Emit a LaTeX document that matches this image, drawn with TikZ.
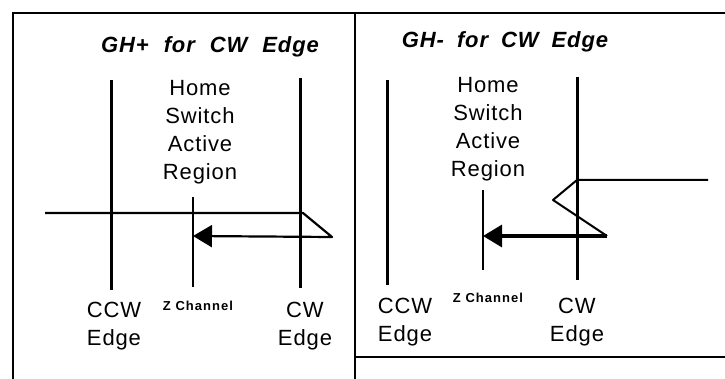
\documentclass[tikz,border=0pt]{standalone}
\usepackage{fontspec}
\setmainfont{Liberation Sans}
\newfontfamily\labelfont[LetterSpace=4]{Liberation Sans}
\newfontfamily\titlefont[LetterSpace=4]{Liberation Sans}
\newfontfamily\chanfont[LetterSpace=8]{Liberation Sans}
\usetikzlibrary{arrows.meta}

\begin{document}
\begin{tikzpicture}[
  x=1pt,y=-1pt,
  every node/.style={inner sep=0pt},
  ttl/.style={anchor=base,font=\fontsize{22}{26}\selectfont\titlefont\bfseries\itshape},
  lbl/.style={anchor=north,align=center,font=\fontsize{22}{28}\selectfont\labelfont},
  chan/.style={anchor=base,font=\fontsize{13}{15}\selectfont\chanfont\bfseries},
  edgeline/.style={line width=3pt},
  zline/.style={line width=1.4pt},
  trace/.style={line width=2.2pt,line join=round},
  homing/.style={line width=3.2pt,-{Triangle[length=19pt,width=22pt]}},
  frame/.style={line width=1.6pt}
]
  \useasboundingbox (0,0) rectangle (725,379);

  % frame
  \draw[frame] (13,379) -- (13,13) -- (725,13);
  \draw[line width=2.6pt] (355,13) -- (355,379);
  \draw[frame] (355,357) -- (725,357);

  % GH+ panel
  \node[ttl] (ttlp) at (210,53) {GH+\hspace{15pt}for\hspace{15pt}CW\hspace{15pt}Edge};
  \coordinate (ccwtopp) at (111,80);  \coordinate (ccwbotp) at (111,290);
  \coordinate (cwtopp) at (300,78);   \coordinate (cwbotp) at (300,288);
  \coordinate (ztopp) at (193,197);   \coordinate (zbotp) at (193,287);
  \draw[edgeline] (ccwtopp) -- (ccwbotp);
  \draw[edgeline] (cwtopp) -- (cwbotp);
  \draw[zline] (ztopp) -- (zbotp);
  \node[lbl] (homep) at (200,80) {Home\\Switch\\Active\\Region};
  \node[lbl] (ccwp) at (114,302) {CCW\\Edge};
  \node[lbl] (cwp) at (305,302) {CW\\Edge};
  \node[chan] (chanp) at (198,310) {Z Channel};
  \coordinate (startp) at (45,213);
  \coordinate (bendp) at (303,213);
  \coordinate (turnp) at (332,237);
  \coordinate (stopp) at (193,236);
  \draw[trace,line width=2.2pt,-{Triangle[length=19pt,width=22pt]}]
    (startp) -- (bendp) -- (turnp) -- (stopp);

  % GH- panel
  \node[ttl] (ttlm) at (505,48) {GH-\hspace{13pt}for\hspace{13pt}CW\hspace{13pt}Edge};
  \coordinate (ccwtopm) at (387,80);  \coordinate (ccwbotm) at (387,285);
  \coordinate (cwtopm) at (577,77);   \coordinate (cwbotm) at (577,280);
  \coordinate (ztopm) at (483,190);   \coordinate (zbotm) at (483,270);
  \draw[edgeline] (ccwtopm) -- (ccwbotm);
  \draw[edgeline] (cwtopm) -- (cwbotm);
  \draw[zline] (ztopm) -- (zbotm);
  \node[lbl] (homem) at (488,77) {Home\\Switch\\Active\\Region};
  \node[lbl] (ccwm) at (405,298) {CCW\\Edge};
  \node[lbl] (cwm) at (577,298) {CW\\Edge};
  \node[chan] (chanm) at (488,302) {Z Channel};
  \coordinate (startm) at (708,180);
  \coordinate (bendm) at (577,180);
  \coordinate (backm) at (553,200);
  \coordinate (turnm) at (607,236);
  \coordinate (stopm) at (483,236);
  \draw[trace,line width=2pt] (startm) -- (bendm) -- (backm) -- (turnm);
  \draw[homing] (turnm) -- (stopm);
\end{tikzpicture}
\end{document}
